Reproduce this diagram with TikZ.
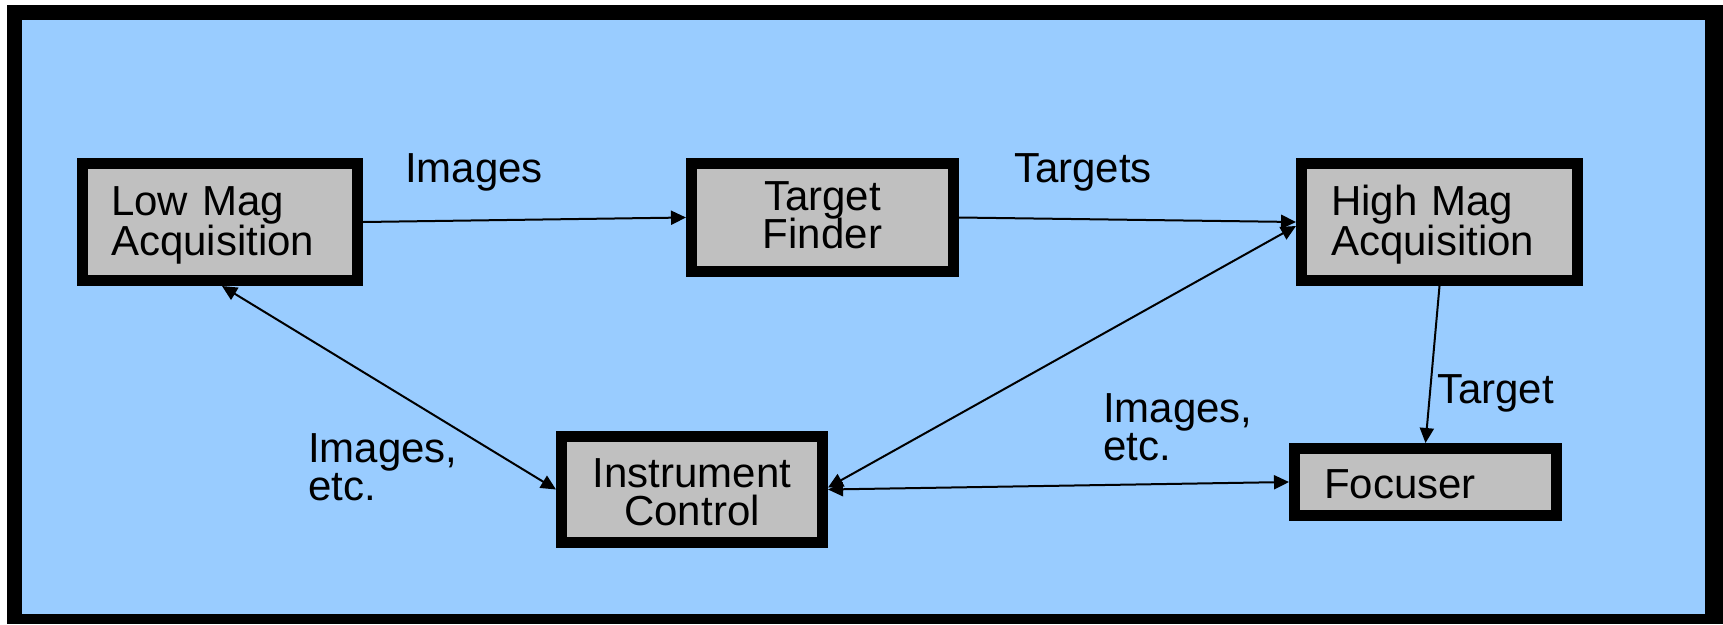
\documentclass[tikz,border=0pt]{standalone}
\usepackage{fontspec}
\setmainfont{Liberation Sans}
\usetikzlibrary{arrows.meta,calc}
\definecolor{bgblue}{RGB}{153,204,255}
\definecolor{boxgray}{RGB}{192,192,192}
\lineskiplimit=-100pt
\begin{document}
\begin{tikzpicture}[x=1pt,y=-1pt,
  every node/.style={font=\fontsize{42}{38}\selectfont},
  box/.style={rectangle, draw=black, fill=boxgray, line width=11pt, outer sep=5.5pt, inner sep=0pt},
  lbl/.style={anchor=base west, inner sep=0pt, align=left},
  tip/.tip={Triangle[length=15pt,width=14pt]},
  conn/.style={line width=2pt, -tip},
  conn2/.style={line width=2pt, tip-tip}]
\useasboundingbox (0,0) rectangle (1723,624);
\fill[white] (0,0) rectangle (1723,624);
\fill[black] (7,5) rectangle (1723,624);
\fill[bgblue] (22,20) rectangle (1705,614);

\node[box, minimum width=275pt, minimum height=117pt, text width=218pt, align=left, text height=30pt, text depth=44pt] (low) at (220,222) {Low Mag\\Acquisition};
\node[box, minimum width=262pt, minimum height=108pt, align=center, text height=68pt, text depth=7pt] (finder) at (822.5,217.5) {Target\\Finder};
\node[box, minimum width=276pt, minimum height=117pt, text width=217pt, align=left, text height=30pt, text depth=44pt] (high) at (1439.5,222) {High Mag\\Acquisition};
\node[box, minimum width=261pt, minimum height=106pt, align=center, text height=71pt, text depth=0pt] (instr) at (692,489.5) {Instrument\\Control};
\node[box, minimum width=262pt, minimum height=67pt, text width=203pt, align=left, text height=32pt, text depth=0pt] (focuser) at (1425.5,482) {Focuser};

\draw[conn] (low.east) -- (finder.west);
\draw[conn] (finder.east) -- (high.west);
\draw[conn2] ($(instr.east)+(0,-2)$) -- ($(high.west)+(0,4)$);
\draw[conn2] (instr.east) -- (focuser.west);
\draw[conn2] ($(low.south)+(2,0)$) -- (instr.west);
\draw[conn] (high.south) -- (focuser.north);

\node[lbl] (l1) at (405,182) {Images};
\node[lbl] (l2) at (1014,182) {Targets};
\node[lbl] (l3) at (308,500) {Images,\\etc.};
\node[lbl] (l4) at (1103,460) {Images,\\etc.};
\node[lbl] (l5) at (1437,403) {Target};
\end{tikzpicture}
\end{document}
